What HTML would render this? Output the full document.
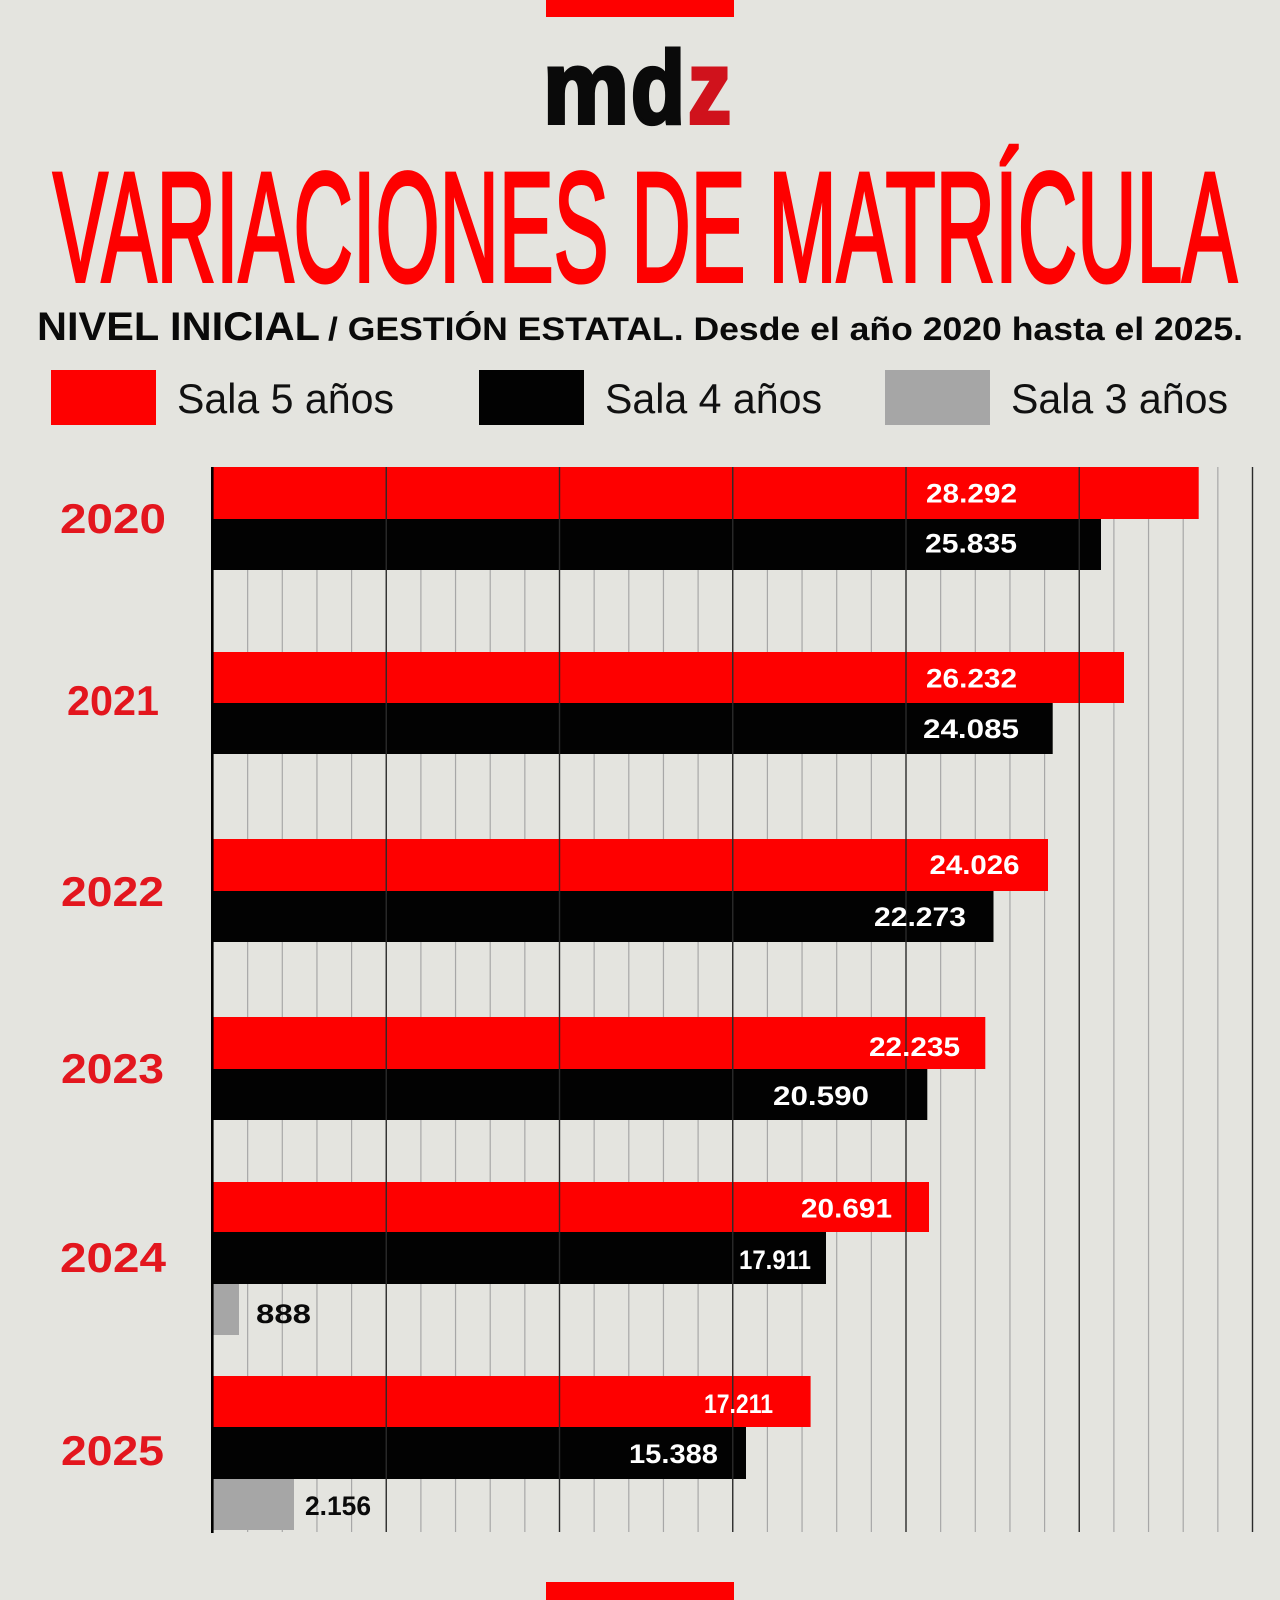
<!DOCTYPE html>
<html>
<head>
<meta charset="utf-8">
<style>
  html,body{margin:0;padding:0;background:#e4e4df;}
  svg{display:block;}
  text{font-family:"Liberation Sans", Arial, sans-serif;}
</style>
</head>
<body>
<svg width="1280" height="1600" viewBox="0 0 1280 1600" xmlns="http://www.w3.org/2000/svg">
  <rect x="0" y="0" width="1280" height="1600" fill="#e4e4df"/>
  <!-- top and bottom red bars -->
  <rect x="546" y="0" width="188" height="17" fill="#fe0000"/>
  <rect x="546" y="1582" width="188" height="18" fill="#fe0000"/>

  <!-- logo -->
  <text x="543" y="123" font-size="103" font-weight="bold" fill="#0a0a0a" stroke="#0a0a0a" stroke-width="4" textLength="86" lengthAdjust="spacingAndGlyphs">m</text>
  <text x="631" y="123" font-size="103" font-weight="bold" fill="#0a0a0a" stroke="#0a0a0a" stroke-width="4" textLength="54" lengthAdjust="spacingAndGlyphs">d</text>
  <text x="688" y="123" font-size="103" font-weight="bold" fill="#d0121c" stroke="#d0121c" stroke-width="4" textLength="43" lengthAdjust="spacingAndGlyphs">z</text>

  <!-- title -->
  <text x="53" y="281" font-size="156" fill="#fe0000" stroke="#fe0000" stroke-width="4" textLength="1184" lengthAdjust="spacingAndGlyphs">VARIACIONES DE MATRÍCULA</text>

  <!-- subtitle -->
  <text x="37" y="340" font-size="40" font-weight="bold" fill="#0a0a0a" textLength="283" lengthAdjust="spacingAndGlyphs">NIVEL INICIAL</text>
  <text x="328" y="340" font-size="32" font-weight="bold" fill="#0a0a0a" textLength="915" lengthAdjust="spacingAndGlyphs">/ GESTIÓN ESTATAL. Desde el año 2020 hasta el 2025.</text>

  <!-- legend -->
  <rect x="51" y="370" width="105" height="55" fill="#fe0000"/>
  <text x="177" y="413" font-size="42" fill="#111" textLength="217" lengthAdjust="spacingAndGlyphs">Sala 5 años</text>
  <rect x="479" y="370" width="105" height="55" fill="#020202"/>
  <text x="605" y="413" font-size="42" fill="#111" textLength="217" lengthAdjust="spacingAndGlyphs">Sala 4 años</text>
  <rect x="885" y="370" width="105" height="55" fill="#a6a6a6"/>
  <text x="1011" y="413" font-size="42" fill="#111" textLength="217" lengthAdjust="spacingAndGlyphs">Sala 3 años</text>

  <!-- minor grid lines -->
  <g stroke="#a7a7a7" stroke-width="1.2">
    <line x1="247.65" y1="467" x2="247.65" y2="1532"/>
    <line x1="282.3" y1="467" x2="282.3" y2="1532"/>
    <line x1="316.95" y1="467" x2="316.95" y2="1532"/>
    <line x1="351.6" y1="467" x2="351.6" y2="1532"/>
    <line x1="420.9" y1="467" x2="420.9" y2="1532"/>
    <line x1="455.55" y1="467" x2="455.55" y2="1532"/>
    <line x1="490.2" y1="467" x2="490.2" y2="1532"/>
    <line x1="524.85" y1="467" x2="524.85" y2="1532"/>
    <line x1="594.15" y1="467" x2="594.15" y2="1532"/>
    <line x1="628.8" y1="467" x2="628.8" y2="1532"/>
    <line x1="663.45" y1="467" x2="663.45" y2="1532"/>
    <line x1="698.1" y1="467" x2="698.1" y2="1532"/>
    <line x1="767.4" y1="467" x2="767.4" y2="1532"/>
    <line x1="802.05" y1="467" x2="802.05" y2="1532"/>
    <line x1="836.7" y1="467" x2="836.7" y2="1532"/>
    <line x1="871.35" y1="467" x2="871.35" y2="1532"/>
    <line x1="940.65" y1="467" x2="940.65" y2="1532"/>
    <line x1="975.3" y1="467" x2="975.3" y2="1532"/>
    <line x1="1009.95" y1="467" x2="1009.95" y2="1532"/>
    <line x1="1044.6" y1="467" x2="1044.6" y2="1532"/>
    <line x1="1113.9" y1="467" x2="1113.9" y2="1532"/>
    <line x1="1148.55" y1="467" x2="1148.55" y2="1532"/>
    <line x1="1183.2" y1="467" x2="1183.2" y2="1532"/>
    <line x1="1217.85" y1="467" x2="1217.85" y2="1532"/>
  </g>

  <!-- bars -->
  <rect x="213" y="467" width="985.7" height="52" fill="#fe0000"/>
  <rect x="213" y="519" width="888" height="51" fill="#020202"/>
  <rect x="213" y="652" width="911" height="51" fill="#fe0000"/>
  <rect x="213" y="703" width="839.7" height="51" fill="#020202"/>
  <rect x="213" y="839" width="835" height="52" fill="#fe0000"/>
  <rect x="213" y="891" width="780.5" height="51" fill="#020202"/>
  <rect x="213" y="1017" width="772.3" height="52" fill="#fe0000"/>
  <rect x="213" y="1069" width="714.3" height="51" fill="#020202"/>
  <rect x="213" y="1182" width="716" height="50" fill="#fe0000"/>
  <rect x="213" y="1232" width="613" height="52" fill="#020202"/>
  <rect x="213" y="1284" width="26" height="51" fill="#a6a6a6"/>
  <rect x="213" y="1376" width="597.6" height="51" fill="#fe0000"/>
  <rect x="213" y="1427" width="533" height="52" fill="#020202"/>
  <rect x="213" y="1479" width="81" height="51" fill="#a6a6a6"/>

  <!-- major grid lines (over bars) -->
  <g stroke="#2a2a2a" stroke-width="1.4">
    <line x1="386.25" y1="467" x2="386.25" y2="1532"/>
    <line x1="559.5" y1="467" x2="559.5" y2="1532"/>
    <line x1="732.75" y1="467" x2="732.75" y2="1532"/>
    <line x1="906" y1="467" x2="906" y2="1532"/>
    <line x1="1079.25" y1="467" x2="1079.25" y2="1532"/>
    <line x1="1252.5" y1="467" x2="1252.5" y2="1532"/>
  </g>
  <!-- axis -->
  <rect x="211" y="467" width="2.6" height="1066" fill="#000"/>

  <!-- year labels -->
  <g font-size="42" font-weight="bold" fill="#e3161e">
    <text x="60" y="533" textLength="106" lengthAdjust="spacingAndGlyphs">2020</text>
    <text x="67" y="715" textLength="92" lengthAdjust="spacingAndGlyphs">2021</text>
    <text x="61" y="906" textLength="103" lengthAdjust="spacingAndGlyphs">2022</text>
    <text x="61" y="1083" textLength="103" lengthAdjust="spacingAndGlyphs">2023</text>
    <text x="60" y="1272" textLength="106" lengthAdjust="spacingAndGlyphs">2024</text>
    <text x="61" y="1465" textLength="103" lengthAdjust="spacingAndGlyphs">2025</text>
  </g>

  <!-- value labels -->
  <g font-size="27" font-weight="bold" fill="#ffffff">
    <text x="926" y="502.5" textLength="91" lengthAdjust="spacingAndGlyphs">28.292</text>
    <text x="925" y="552.5" textLength="92" lengthAdjust="spacingAndGlyphs">25.835</text>
    <text x="926" y="687.5" textLength="91" lengthAdjust="spacingAndGlyphs">26.232</text>
    <text x="923" y="738" textLength="96" lengthAdjust="spacingAndGlyphs">24.085</text>
    <text x="929.5" y="874" textLength="90" lengthAdjust="spacingAndGlyphs">24.026</text>
    <text x="874" y="926" textLength="92" lengthAdjust="spacingAndGlyphs">22.273</text>
    <text x="869" y="1056" textLength="91" lengthAdjust="spacingAndGlyphs">22.235</text>
    <text x="773" y="1105" textLength="96" lengthAdjust="spacingAndGlyphs">20.590</text>
    <text x="801" y="1217.5" textLength="91" lengthAdjust="spacingAndGlyphs">20.691</text>
    <text x="739" y="1269" textLength="72" lengthAdjust="spacingAndGlyphs">17.911</text>
    <text x="704" y="1413" textLength="69" lengthAdjust="spacingAndGlyphs">17.211</text>
    <text x="629" y="1463" textLength="89" lengthAdjust="spacingAndGlyphs">15.388</text>
  </g>
  <g font-size="27" font-weight="bold" fill="#0a0a0a">
    <text x="256" y="1323" textLength="55" lengthAdjust="spacingAndGlyphs">888</text>
    <text x="305" y="1515" textLength="66" lengthAdjust="spacingAndGlyphs">2.156</text>
  </g>
</svg>
</body>
</html>
